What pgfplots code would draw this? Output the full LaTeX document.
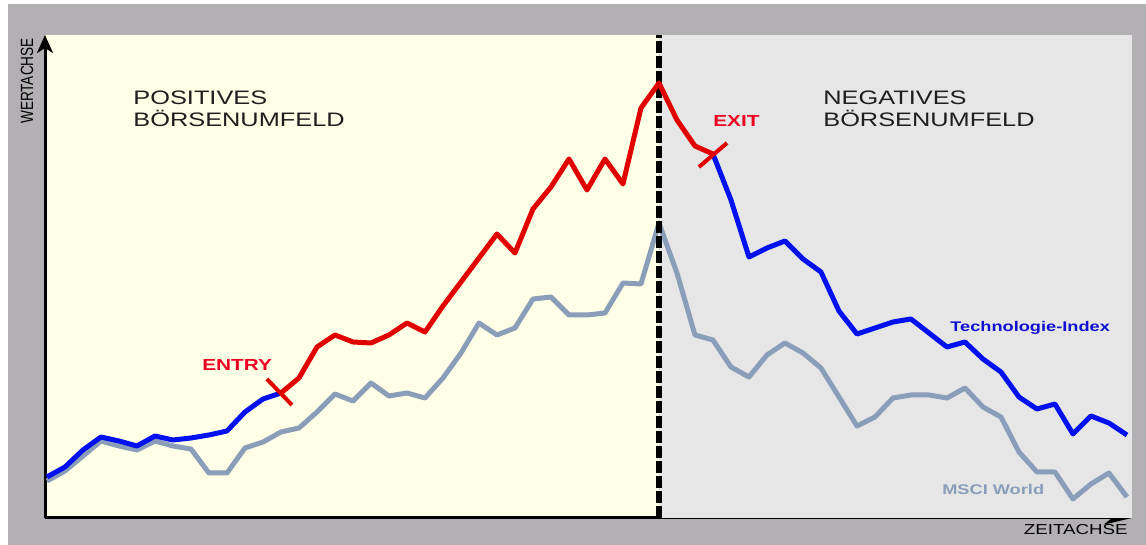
\documentclass[border=0pt]{standalone}
\usepackage{pgfplots}
\usepackage{pgfplotstable}
\pgfplotsset{compat=1.18}
\usepackage{fontspec}
\setmainfont{Liberation Sans}
\newfontfamily\wide{Liberation Sans}[FakeStretch=1.3]
\usetikzlibrary{arrows.meta}

\definecolor{rahmen}{HTML}{B2B0B3}
\definecolor{posbg}{HTML}{FFFFE8}
\definecolor{negbg}{HTML}{E6E6E6}
\definecolor{techblue}{HTML}{0010EE}
\definecolor{techred}{HTML}{E00000}
\definecolor{msci}{HTML}{8A9EB9}
\definecolor{labelred}{HTML}{EE0022}
\definecolor{labelblue}{HTML}{1010D0}
\definecolor{dunkel}{HTML}{1E1E1E}

% x = Periode, y = Kurs (Pixelhoehe)
\pgfplotstableread{
i tech msci
0 68 64
1 78 74
2 95 89
3 108 104
4 104 99
5 99 95
6 109 104
7 105 99
8 107 96
9 110 72
10 114 72
11 133 97
12 146 103
13 152 113
14 167 117
15 198 133
16 210 151
17 203 144
18 202 162
19 210 149
20 222 152
21 213 147
22 239 167
23 263 192
24 287 222
25 311 210
26 292 217
27 336 246
28 358 248
29 386 230
30 355 230
31 386 232
32 361 262
33 437 261
34 462 322
35 425 272
36 399 210
37 391 205
38 345 178
39 288 168
40 297 190
41 304 202
42 286 192
43 273 177
44 234 148
45 211 119
46 217 128
47 223 147
48 226 150
49 212 150
50 198 147
51 203 157
52 186 138
53 173 128
54 148 93
55 136 73
56 141 73
57 111 46
58 129 61
59 122 72
60 110 48
}\kurse

\begin{document}
\begin{tikzpicture}
\useasboundingbox (-22.5pt,-13.5pt) rectangle (550.5pt,259pt);
\fill[white] (-22.5pt,-13.5pt) rectangle (550.5pt,259pt);
\fill[rahmen] (-18.5pt,-13.5pt) rectangle (550.5pt,257pt);
\begin{axis}[
    at={(0,0)}, anchor=south west,
    scale only axis,
    width=543.5pt, height=241.5pt,
    xmin=-0.11, xmax=60.28,
    ymin=27, ymax=510,
    axis lines=left,
    ticks=none,
    axis line style={line width=1.5pt},
    x axis line style={-{Stealth[length=14pt,width=6.5pt,inset=4pt]}},
    y axis line style={-{Stealth[length=9pt,width=8pt,inset=2.5pt]}},
    axis background/.style={fill=posbg},
    clip=false,
    line join=round,
]
\fill[negbg] (axis cs:34,27) rectangle (axis cs:60.28,510);

\addplot[msci, line width=2.5pt, no marks] table[x=i, y=msci] {\kurse};

\addplot[black, line width=3.3pt, dash pattern=on 5.8pt off 1.7pt, no marks]
    coordinates {(34,27) (34,510)};

\addplot[techblue, line width=2.5pt, no marks, restrict x to domain=0:13] table[x=i, y=tech] {\kurse};
\addplot[techblue, line width=2.5pt, no marks, restrict x to domain=37:60] table[x=i, y=tech] {\kurse};
\addplot[techred, line width=2.5pt, no marks, restrict x to domain=13:37] table[x=i, y=tech] {\kurse};

% Entry- und Exit-Markierung
\addplot[techred, line width=2pt, no marks] coordinates {(12.22,166) (13.61,140)};
\addplot[techred, line width=2pt, no marks] coordinates {(36.22,378) (37.78,402)};

\node[anchor=base west, inner sep=0, text=dunkel, font=\wide\fontsize{9.75}{12}\selectfont] at (axis cs:4.78,440) {POSITIVES};
\node[anchor=base west, inner sep=0, text=dunkel, font=\wide\fontsize{9.75}{12}\selectfont] at (axis cs:4.78,418) {BÖRSENUMFELD};
\node[anchor=base west, inner sep=0, text=dunkel, font=\wide\fontsize{9.75}{12}\selectfont] at (axis cs:43.11,440) {NEGATIVES};
\node[anchor=base west, inner sep=0, text=dunkel, font=\wide\fontsize{9.75}{12}\selectfont] at (axis cs:43.11,418) {BÖRSENUMFELD};

\node[anchor=base west, inner sep=0, text=labelred, font=\wide\bfseries\fontsize{8}{10}\selectfont] at (axis cs:37.0,418) {EXIT};
\node[anchor=base west, inner sep=0, text=labelred, font=\wide\bfseries\fontsize{8}{10}\selectfont] at (axis cs:8.61,174) {ENTRY};
\node[anchor=base west, inner sep=0, text=labelblue, font=\wide\bfseries\fontsize{7}{9}\selectfont] at (axis cs:50.17,213) {Technologie-Index};
\node[anchor=base west, inner sep=0, text=msci, font=\wide\bfseries\fontsize{7}{9}\selectfont] at (axis cs:49.72,50) {MSCI World};

\node[anchor=base east, inner sep=0, text=black, font=\wide\fontsize{7.2}{9}\selectfont] at (axis cs:60.06,10) {ZEITACHSE};
\node[rotate=90, anchor=center, inner sep=0, text=black, font=\fontsize{6.8}{8}\selectfont] at (axis cs:-1.11,464) {\scalebox{1}[1.3]{WERTACHSE}};
\end{axis}
\end{tikzpicture}
\end{document}
